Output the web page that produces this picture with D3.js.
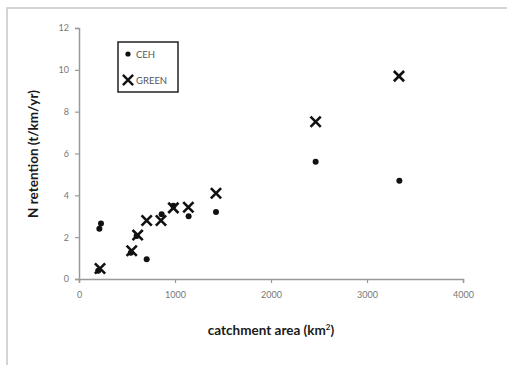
<!DOCTYPE html>
<html>
<head>
<meta charset="utf-8">
<script src="https://cdn.jsdelivr.net/npm/d3@7"></script>
<style>
  body { margin: 0; background: #fff; }
  svg { display: block; font-family: Lato, "Open Sans", sans-serif; }
</style>
</head>
<body>
<div id="chart"></div>
<script>
// data
const cehArea = [212, 229, 200, 540, 705, 600, 861, 983, 1142, 1427, 2465, 3337];
const cehRet = [2.4, 2.65, 0.4, 1.25, 0.95, 2.05, 3.1, 3.5, 3.0, 3.2, 5.6, 4.7];
const greenArea = [219, 549, 611, 705, 854, 983, 1139, 1427, 2465, 3333];
const greenRet = [0.5, 1.35, 2.1, 2.8, 2.8, 3.4, 3.43, 4.1, 7.52, 9.7];
const xTicks = [0, 1000, 2000, 3000, 4000];
const yTicks = [0, 2, 4, 6, 8, 10, 12];

const W = 507, H = 365;
const svg = d3.select("#chart").append("svg")
    .attr("width", W).attr("height", H);

// outer frame (only top and left visible in the reference)
svg.append("path")
    .attr("d", "M7,365 V8 H507")
    .attr("fill", "none").attr("stroke", "#c8c8c8").attr("stroke-width", 1.5);

const x = d3.scaleLinear().domain([0, 4000]).range([79, 463]);
const y = d3.scaleLinear().domain([0, 12]).range([279, 28]);

const xAxis = svg.append("g")
    .attr("transform", "translate(0,279)")
    .call(d3.axisBottom(x).tickValues(xTicks).tickFormat(d3.format("d"))
        .tickSize(4).tickPadding(9));
const yAxis = svg.append("g")
    .attr("transform", "translate(79,0)")
    .call(d3.axisLeft(y).tickValues(yTicks).tickSize(4).tickPadding(6));

[xAxis, yAxis].forEach(g => {
  g.select(".domain").attr("stroke", "#999").attr("stroke-width", 1.5);
  g.selectAll(".tick line").attr("stroke", "#999").attr("stroke-width", 1.2);
  g.selectAll(".tick text").attr("fill", "#777")
      .style("font-size", "9px").style("font-family", "Lato, sans-serif");
});

// axis titles
const xt = svg.append("text")
    .attr("x", 271).attr("y", 335)
    .attr("text-anchor", "middle")
    .style("font-size", "13.5px").style("font-weight", "bold").attr("fill", "#1a1a1a")
    .text("catchment area (km");
xt.append("tspan").attr("dy", -5).style("font-size", "8px").text("2");
xt.append("tspan").attr("dy", 5).text(")");

svg.append("text")
    .attr("transform", "translate(38,154) rotate(-90)")
    .attr("text-anchor", "middle")
    .style("font-size", "13.5px").style("font-weight", "bold").attr("fill", "#1a1a1a")
    .text("N retention (t/km/yr)");

// marks
const cross = d3.symbol().type(d3.symbolX).size(70);

svg.append("g").selectAll("circle")
    .data(d3.range(cehArea.length))
    .join("circle")
    .attr("cx", i => x(cehArea[i]))
    .attr("cy", i => y(cehRet[i]))
    .attr("r", 3)
    .attr("fill", "#111");

svg.append("g").selectAll("path")
    .data(d3.range(greenArea.length))
    .join("path")
    .attr("transform", i => `translate(${x(greenArea[i])},${y(greenRet[i])})`)
    .attr("d", cross)
    .attr("stroke", "#111").attr("stroke-width", 2.6).attr("fill", "#111");

// legend
const lg = svg.append("g");
lg.append("rect")
    .attr("x", 118).attr("y", 42).attr("width", 60).attr("height", 50)
    .attr("fill", "#fff").attr("stroke", "#222").attr("stroke-width", 1.5);
lg.append("circle").attr("cx", 128).attr("cy", 54).attr("r", 2.6).attr("fill", "#111");
lg.append("path").attr("transform", "translate(128,80)").attr("d", cross)
    .attr("stroke", "#111").attr("stroke-width", 2.4);
lg.append("text").attr("x", 136).attr("y", 58)
    .style("font-size", "9.5px").attr("fill", "#555").text("CEH");
lg.append("text").attr("x", 136).attr("y", 84)
    .style("font-size", "9.5px").attr("fill", "#555").text("GREEN");
</script>
</body>
</html>
